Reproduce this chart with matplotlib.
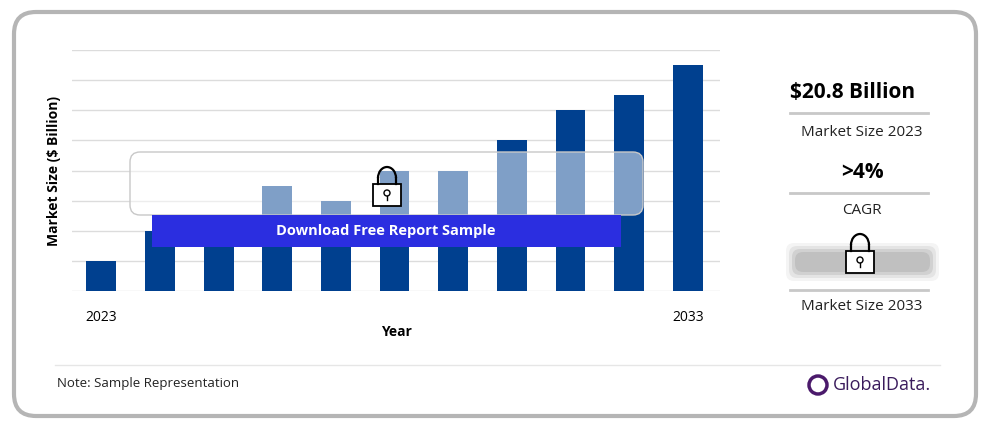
import matplotlib
matplotlib.use("Agg")
import matplotlib.pyplot as plt
from matplotlib.patches import FancyBboxPatch, Rectangle, Arc, Circle

years = [str(y) for y in range(2023, 2034)]
values = [1.0, 2.0, 2.2, 3.5, 3.0, 4.0, 4.0, 5.0, 6.0, 6.5, 7.5]
tick_labels = {0: "2023", 10: "2033"}

W, H = 992, 430
fig = plt.figure(figsize=(W/100, H/100), dpi=100)
fig.patch.set_facecolor("white")
plt.rcParams['font.family'] = ['Open Sans', 'DejaVu Sans']

def fx(x): return x / W
def fy(y): return 1 - y / H

bg = fig.add_axes([0, 0, 1, 1], zorder=0)
bg.set_xlim(0, W); bg.set_ylim(H, 0); bg.axis("off")
bg.add_patch(FancyBboxPatch((14, 12), 962, 404, boxstyle="round,pad=0,rounding_size=22",
                            fc="white", ec="#b5b5b5", lw=3))

ax = fig.add_axes([fx(72), fy(291), fx(720-72), (291-50)/H], zorder=1)
ax.patch.set_alpha(0)
x = list(range(len(years)))
ax.bar(x, values, width=0.51, color="#00408f", zorder=2)
ax.set_xlim(-0.5, 10.55); ax.set_ylim(0, 8)
ax.set_yticks(range(0, 9))
ax.yaxis.grid(True, color="#dcdcdc", lw=1); ax.set_axisbelow(True)
ax.tick_params(axis="y", length=0, labelleft=False)
ax.set_xticks(list(tick_labels.keys()))
ax.set_xticklabels(list(tick_labels.values()), fontsize=10)
ax.tick_params(axis="x", length=0, pad=14)
for s in ax.spines.values(): s.set_visible(False)
ax.set_xlabel("Year", fontsize=10, fontweight="bold", labelpad=0)
ax.set_ylabel("Market Size ($ Billion)", fontsize=10, fontweight="bold", labelpad=8)

fg = fig.add_axes([0, 0, 1, 1], zorder=3)
fg.set_xlim(0, W); fg.set_ylim(H, 0); fg.axis("off")
fg.add_patch(FancyBboxPatch((130, 152), 513, 63, boxstyle="round,pad=0,rounding_size=10",
                            fc=(1, 1, 1, 0.5), ec="#c8c8c8", lw=1))
fg.add_patch(Rectangle((152, 215), 469, 32, fc="#2b2ee0", ec="none"))
fg.text(386, 231, "Download Free Report Sample", color="white", fontsize=10.5,
        fontweight="bold", ha="center", va="center")

def lock(cx, cy):
    # shackle
    fg.add_patch(Arc((cx, cy - 8), 18, 22, theta1=180, theta2=360, lw=1.6, color="black"))
    fg.plot([cx-9, cx-9], [cy-8, cy-2], color="black", lw=1.6)
    fg.plot([cx+9, cx+9], [cy-8, cy-2], color="black", lw=1.6)
    fg.add_patch(Rectangle((cx-14, cy-2), 28, 22, fc="white", ec="black", lw=1.3))
    fg.add_patch(Circle((cx, cy+7), 3, fc="white", ec="black", lw=1))
    fg.plot([cx, cx], [cy+10, cy+14], color="black", lw=1)

lock(387, 186)

fg.text(853, 93, "$20.8 Billion", fontsize=15, fontweight="bold", ha="center", va="center")
fg.plot([790, 928], [113, 113], color="#c8c8c8", lw=2)
fg.text(862, 132, "Market Size 2023", fontsize=11, ha="center", va="center", color="#222")
fg.text(862, 172, ">4%", fontsize=15, fontweight="bold", ha="center", va="center")
fg.plot([790, 928], [193, 193], color="#c8c8c8", lw=2)
fg.text(862, 210, "CAGR", fontsize=11, ha="center", va="center", color="#222")
for i, a in enumerate([0.12, 0.2, 0.3, 0.4]):
    pad = 9 - i*3
    fg.add_patch(FancyBboxPatch((795 - pad, 252 - pad), 135 + 2*pad, 20 + 2*pad,
                                boxstyle="round,pad=0,rounding_size=8", fc="#a8a8a8", ec="none", alpha=a))
lock(860, 253)
fg.plot([790, 928], [290, 290], color="#c8c8c8", lw=2)
fg.text(862, 306, "Market Size 2033", fontsize=11, ha="center", va="center", color="#222")

fg.plot([55, 940], [365, 365], color="#e6e6e6", lw=1)
fg.text(57, 383, "Note: Sample Representation", fontsize=9.5, va="center", color="#222")
fg.add_patch(Circle((818, 385), 9, fc="none", ec="#4b1a6b", lw=2.5))
fg.text(833, 385, "GlobalData.", fontsize=13, va="center", color="#3a1b5c")

fig.savefig("out.png", dpi=100)
